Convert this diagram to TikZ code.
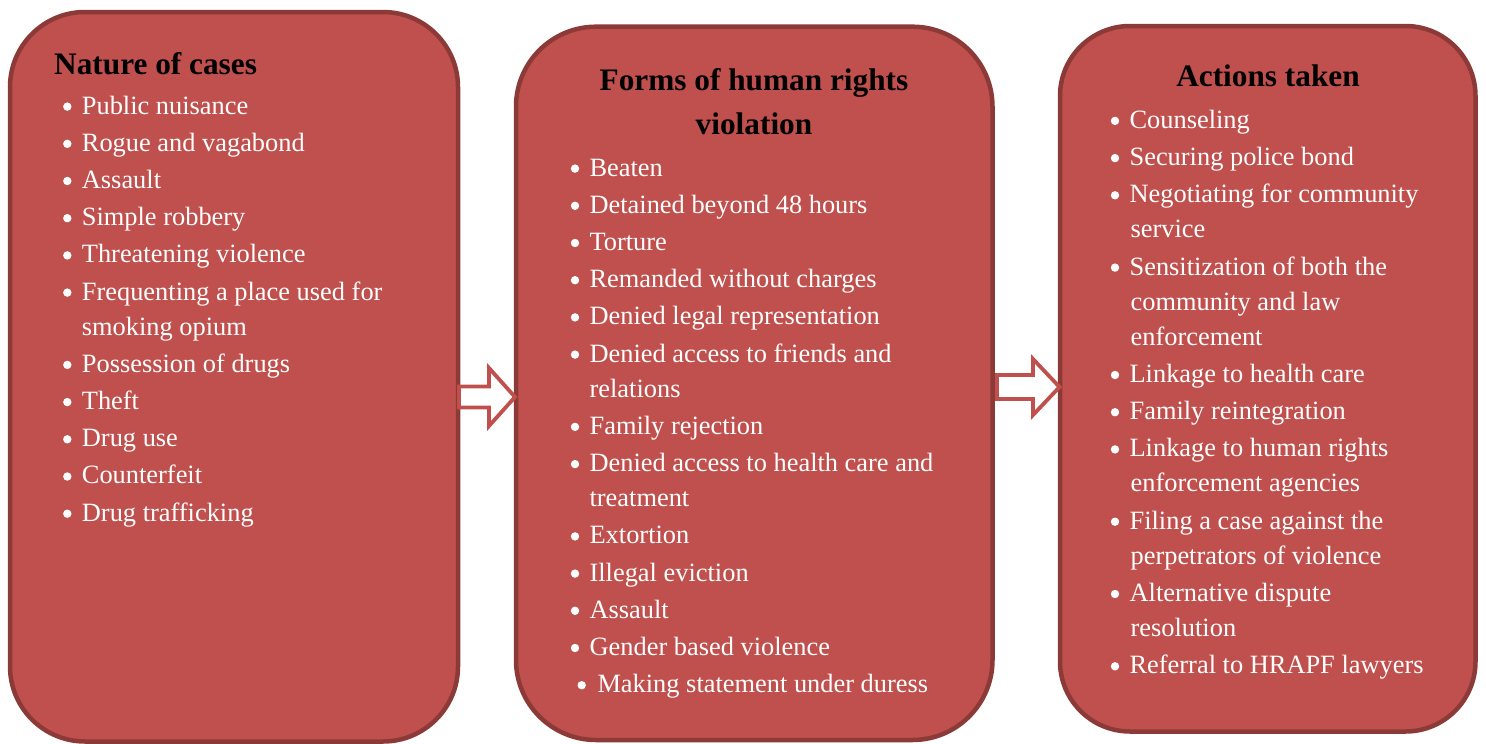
\documentclass[tikz,border=0pt]{standalone}
\usepackage{fontspec}
\setmainfont{Liberation Serif}
\definecolor{boxfill}{HTML}{C0504D}
\definecolor{boxline}{HTML}{8C3A38}
\tikzset{
  box/.style={draw=boxline, fill=boxfill, line width=4.5pt, rectangle, inner sep=0pt},
  txt/.style={anchor=base west, inner sep=0pt, text=white, font=\fontsize{26.4}{30}\selectfont},
  head/.style={anchor=base, inner sep=0pt, text=black, font=\fontsize{31.3}{36}\selectfont\bfseries},
  bul/.style={fill=white},
  blockarrow/.style={draw=boxfill, fill=white, line width=3.8pt, line join=miter}
}
% #1 name, #2 bullet centre x, #3 baseline y, #4 text, text starts 14.4pt right of bullet centre
\newcommand\itmA[4]{\fill[bul] (#2,#3-7.4) circle (4.2);
  \node[txt] (#1) at (#2+14.4,#3) {#4};}
\newcommand\cnt[4]{\node[txt] (#1) at (#2,#3) {#4};}
\begin{document}
\begin{tikzpicture}[x=1pt,y=-1pt]
\useasboundingbox (0,0) rectangle (1486,744);
% boxes
\node[box, rounded corners=75pt, minimum width=448pt, minimum height=729.5pt] (b1) at (234,376.75) {};
\node[box, rounded corners=80pt, minimum width=476.5pt, minimum height=713.3pt] (b2) at (754.25,383.35) {};
\node[box, rounded corners=70pt, minimum width=415.5pt, minimum height=705.5pt] (b3) at (1267.75,378.75) {};
% arrows
\draw[blockarrow] (459,386.5) -- (489,386.5) -- (489,368) -- (515,397) -- (489,426) -- (489,407.5) -- (459,407.5) -- cycle;
\draw[blockarrow] (997,375) -- (1033,375) -- (1033,359) -- (1059.5,387) -- (1033,415) -- (1033,399) -- (997,399) -- cycle;
% box 1
\node[head, anchor=base west] (h1) at (54,74) {Nature of cases};
\itmA{a1}{67.3}{114}{Public nuisance}
\itmA{a2}{67.3}{151.2}{Rogue and vagabond}
\itmA{a3}{67.3}{188.4}{Assault}
\itmA{a4}{67.3}{225.6}{Simple robbery}
\itmA{a5}{67.3}{262.8}{Threatening violence}
\itmA{a6}{67.3}{300.0}{Frequenting a place used for}
\cnt{a6b}{81.7}{335.1}{smoking opium}
\itmA{a7}{67.3}{372.3}{Possession of drugs}
\itmA{a8}{67.3}{409.5}{Theft}
\itmA{a9}{67.3}{446.7}{Drug use}
\itmA{a10}{67.3}{483.9}{Counterfeit}
\itmA{a11}{67.3}{521.1}{Drug trafficking}
% box 2
\node[head] (h2a) at (754,90) {Forms of human rights};
\node[head] (h2b) at (754,134) {violation};
\itmA{c1}{575}{176}{Beaten}
\itmA{c2}{575}{213.2}{Detained beyond 48 hours}
\itmA{c3}{575}{250.4}{Torture}
\itmA{c4}{575}{287.6}{Remanded without charges}
\itmA{c5}{575}{324.8}{Denied legal representation}
\itmA{c6}{575}{362.0}{Denied access to friends and}
\cnt{c6b}{589.4}{397.1}{relations}
\itmA{c7}{575}{434.3}{Family rejection}
\itmA{c8}{575}{471.5}{Denied access to health care and}
\cnt{c8b}{589.4}{506.6}{treatment}
\itmA{c9}{575}{543.8}{Extortion}
\itmA{c10}{575}{581.0}{Illegal eviction}
\itmA{c11}{575}{618.2}{Assault}
\itmA{c12}{575}{655.4}{Gender based violence}
\fill[bul] (581.7,692.6-7.4) circle (4.2);
\node[txt] (c13) at (597.3,692.6) {Making statement under duress};
% box 3
\node[head] (h3) at (1268,86.7) {Actions taken};
\itmA{d1}{1115}{128.3}{Counseling}
\itmA{d2}{1115}{165.5}{Securing police bond}
\itmA{d3}{1115}{202.7}{Negotiating for community}
\cnt{d3b}{1130.4}{237.8}{service}
\itmA{d4}{1115}{275.0}{Sensitization of both the}
\cnt{d4b}{1130.4}{310.1}{community and law}
\cnt{d4c}{1130.4}{345.2}{enforcement}
\itmA{d5}{1115}{382.4}{Linkage to health care}
\itmA{d6}{1115}{419.6}{Family reintegration}
\itmA{d7}{1115}{456.8}{Linkage to human rights}
\cnt{d7b}{1130.4}{491.9}{enforcement agencies}
\itmA{d8}{1115}{529.1}{Filing a case against the}
\cnt{d8b}{1130.4}{564.2}{perpetrators of violence}
\itmA{d9}{1115}{601.4}{Alternative dispute}
\cnt{d9b}{1130.4}{636.5}{resolution}
\itmA{d10}{1115}{673.7}{Referral to HRAPF lawyers}
\end{tikzpicture}
\end{document}
